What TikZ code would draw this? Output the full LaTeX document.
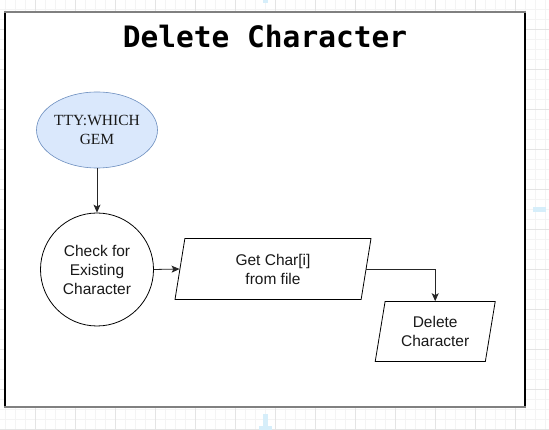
\documentclass[tikz,border=0pt]{standalone}
\usepackage{fontspec}
\setmainfont{Liberation Sans}
\newfontfamily\serifgem{Liberation Serif}
\newfontfamily\titlemono{DejaVu Sans Mono}
\usepackage{tikz}
\usetikzlibrary{shapes.geometric,arrows.meta}

\definecolor{gemfill}{RGB}{218,232,252}
\definecolor{gemline}{RGB}{108,142,191}
\definecolor{gridminor}{RGB}{244,244,244}
\definecolor{gridmajor}{RGB}{228,228,228}
\definecolor{hoverblue}{RGB}{214,238,250}

\tikzset{
  flowtext/.style={font=\fontsize{15.5}{19}\selectfont, align=center, text=black!90},
  flowline/.style={draw=black!85, line width=0.8pt, -{Stealth[length=8pt,width=7pt,inset=2pt]}},
  iobox/.style={trapezium, draw, line width=0.8pt, trapezium left angle=72,
    trapezium right angle=108, trapezium stretches body, inner sep=0pt, flowtext}
}

\begin{document}
\begin{tikzpicture}[x=1pt, y=-1pt]
          \useasboundingbox (0, 0) rectangle (549, 430);
          \fill [white] (0, 0) rectangle (549, 430);

          % Grid
          \foreach \gx in {5.5, 15.5, ..., 549}
            \draw [gridminor, line width=0.6pt] (\gx, 0) -- (\gx, 430);
          \foreach \gy in {9, 19, ..., 430}
            \draw [gridminor, line width=0.6pt] (0, \gy) -- (549, \gy);
          \foreach \gx in {35.5, 75.5, ..., 549}
            \draw [gridmajor, line width=0.7pt] (\gx, 0) -- (\gx, 430);
          \foreach \gy in {29, 69, ..., 430}
            \draw [gridmajor, line width=0.7pt] (0, \gy) -- (549, \gy);

          % Hover marks
          \fill [hoverblue] (263, 0) rectangle (268, 3);
          \fill [hoverblue] (533, 207) rectangle (546, 212);
          \fill [hoverblue] (263, 414) rectangle (268, 428);
          \fill [hoverblue] (259, 426) rectangle (272, 430);

          % Frame
          \fill [white] (5, 12) rectangle (525, 407);
          \draw [black, line width=1.2pt] (5, 12) -- (5, 407);
          \draw [black, line width=1.2pt] (525, 12) -- (525, 407);
          \draw [gray, line width=1.6pt] (4.4, 12) -- (525.6, 12);
          \draw [gray, line width=1.6pt] (4.4, 407) -- (525.6, 407);

          \node (title) at (265, 37)
            {\titlemono\bfseries\fontsize{29.5}{32}\selectfont Delete Character};

          % Nodes
          \node (gem) [ellipse, draw=gemline, fill=gemfill, line width=0.6pt,
            minimum width=121, minimum height=76, inner sep=0pt, flowtext,
            font=\serifgem\fontsize{15.5}{19}\selectfont] at (97, 130)
            {TTY:WHICH\\GEM};
          \node (check) [circle, draw, line width=0.8pt, minimum size=113,
            inner sep=0pt, flowtext] at (97, 269.5)
            {Check for\\Existing\\Character};
          \node (getchar) [iobox, minimum width=196, minimum height=61]
            at (273, 269) {Get Char[i]\\from file};
          \node (delchar) [iobox, minimum width=120, minimum height=60]
            at (435.2, 331.6) {Delete\\Character};

          % Connectors
          \draw [flowline] (gem) -- (check);
          \draw [flowline] (check.east) -- (getchar.west);
          \draw [flowline] (getchar.east) -| (delchar.north);
        \end{tikzpicture}
\end{document}
